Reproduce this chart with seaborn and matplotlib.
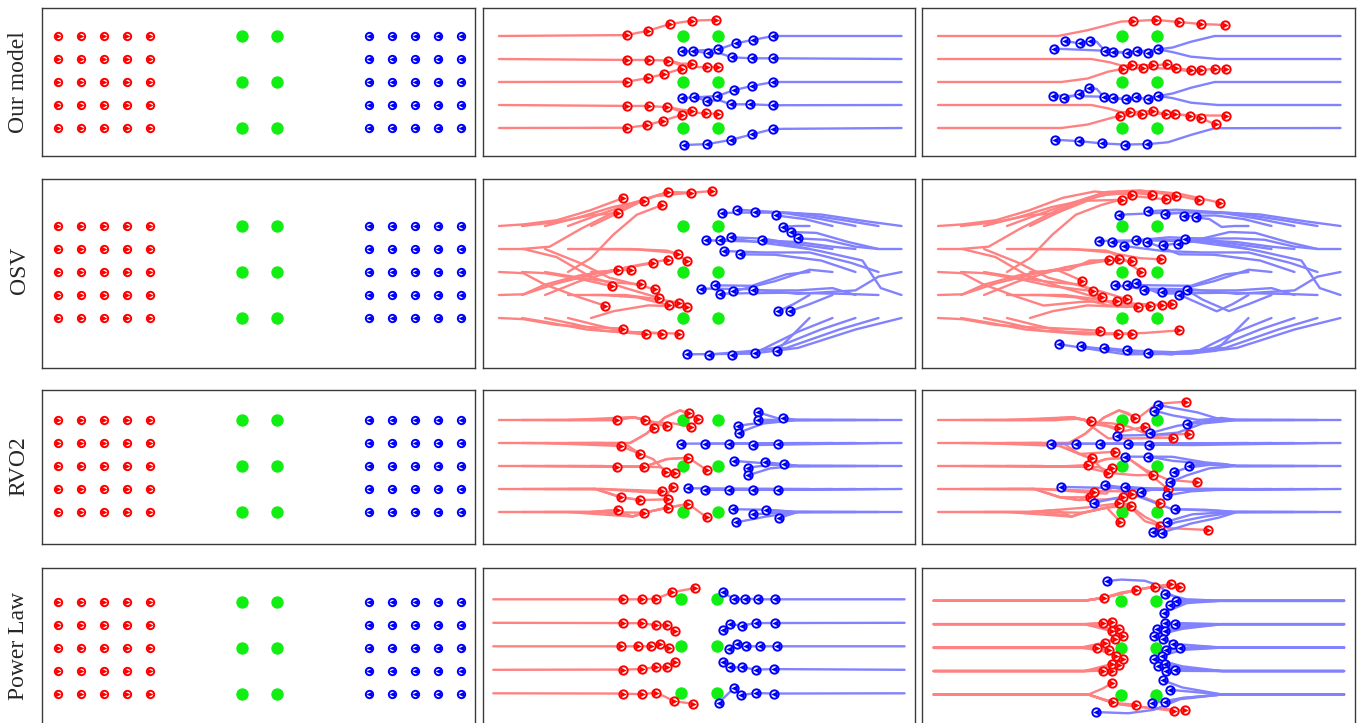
import matplotlib
matplotlib.use("Agg")
import matplotlib.pyplot as plt
import pandas as pd
import seaborn as sns

# ---- scene: start grids and obstacles (metres) ----
red_x0 = [0, 1, 2, 3, 4]
blue_x0 = [13.5, 14.5, 15.5, 16.5, 17.5]
rows_y = [0, 1, 2, 3, 4]
obst_x = [8.0, 9.5]
obst_y = [0, 2, 4]
row_names = ["Our model", "OSV", "RVO2", "Power Law"]

# ---- Our model, snapshot 1 ----
ours_t1_red_lanes = [
    [(0, 4), (5.55, 4.04), (6.49, 4.23), (7.43, 4.52), (8.41, 4.67), (9.42, 4.70)],
    [(0, 3), (5.55, 2.96), (6.54, 2.96), (7.36, 2.93), (7.87, 2.74), (8.16, 2.67), (9.03, 2.64), (9.52, 2.67)],
    [(7.36, 2.95), (7.9, 2.8), (8.41, 2.78)],
    [(0, 2), (5.55, 2.01), (6.46, 2.17), (7.19, 2.35), (7.94, 2.58), (8.41, 2.78)],
    [(0, 1), (5.55, 0.96), (6.54, 0.96), (7.32, 0.90), (7.87, 0.74), (8.16, 0.68), (9.0, 0.64), (9.52, 0.61)],
    [(7.32, 0.92), (7.9, 0.8), (8.38, 0.75)],
    [(0, 0), (5.55, 0.01), (6.42, 0.12), (7.14, 0.32), (7.94, 0.57), (8.38, 0.75)],
]
ours_t1_red = [
    (5.55, 4.04), (6.49, 4.23), (7.43, 4.52), (8.41, 4.67), (9.42, 4.70),
    (5.55, 2.96), (6.54, 2.96), (7.36, 2.93), (9.03, 2.64), (9.52, 2.67),
    (5.55, 2.01), (6.46, 2.17), (7.19, 2.35), (7.94, 2.58), (8.41, 2.78),
    (5.55, 0.96), (6.54, 0.96), (7.32, 0.90), (9.0, 0.64), (9.52, 0.61),
    (5.55, 0.01), (6.42, 0.12), (7.14, 0.32), (7.94, 0.57), (8.38, 0.75),
]
ours_t1_blue_lanes = [
    [(17.5, 4), (11.93, 4.0), (11.03, 3.83), (10.30, 3.68), (9.54, 3.42), (8.45, 3.36), (7.94, 3.33)],
    [(17.5, 3), (11.93, 3.03), (11.01, 3.03), (10.14, 3.07), (9.6, 3.25), (9.07, 3.25), (8.45, 3.36)],
    [(17.5, 2), (11.93, 2.0), (11.01, 1.83), (10.23, 1.65), (9.49, 1.39), (8.48, 1.33), (7.94, 1.30)],
    [(17.5, 1), (11.93, 0.99), (10.91, 1.03), (10.07, 1.03), (9.6, 1.2), (9.06, 1.19), (8.48, 1.33)],
    [(17.5, 0), (11.93, -0.04), (10.99, -0.28), (10.07, -0.52), (9.06, -0.70), (8.04, -0.74)],
]
ours_t1_blue = [
    (11.93, 4.0), (11.03, 3.83), (10.30, 3.68), (9.54, 3.42), (7.94, 3.33),
    (11.93, 3.03), (11.01, 3.03), (10.14, 3.07), (9.07, 3.25), (8.45, 3.36),
    (11.93, 2.0), (11.01, 1.83), (10.23, 1.65), (9.49, 1.39), (7.94, 1.30),
    (11.93, 0.99), (10.91, 1.03), (10.07, 1.03), (9.06, 1.19), (8.48, 1.33),
    (11.93, -0.04), (10.99, -0.28), (10.07, -0.52), (9.06, -0.70), (8.04, -0.74),
]

# ---- Our model, snapshot 2 ----
ours_t2_red_lanes = [
    [(0, 4), (5.22, 4.0), (6.5, 4.25), (7.97, 4.63), (8.48, 4.65), (9.48, 4.70), (10.46, 4.61), (11.45, 4.52), (12.46, 4.48)],
    [(0, 3), (6.67, 3.0), (7.5, 2.85), (8.03, 2.7), (8.45, 2.74), (9.36, 2.72), (9.94, 2.77), (10.33, 2.59), (10.99, 2.52), (11.42, 2.52), (12.06, 2.58), (12.54, 2.55)],
    [(0, 2), (5.36, 2.0), (6.5, 2.15), (7.4, 2.45), (8.03, 2.57), (8.93, 2.62), (9.6, 2.6), (10.4, 2.55), (11.0, 2.45), (11.42, 2.52)],
    [(0, 1), (6.67, 1.0), (7.4, 0.85), (7.93, 0.7), (8.35, 0.68), (9.35, 0.74), (9.90, 0.59), (10.30, 0.61), (10.97, 0.52), (11.42, 0.42), (12.07, 0.16)],
    [(0, 0), (5.36, 0.0), (6.5, 0.15), (7.4, 0.4), (7.93, 0.54), (8.87, 0.61), (9.90, 0.62), (10.97, 0.55), (12.52, 0.54)],
]
ours_t2_red = [
    (8.48, 4.65), (9.48, 4.70), (10.46, 4.61), (11.45, 4.52), (12.46, 4.48),
    (8.03, 2.57), (8.45, 2.74), (8.93, 2.62), (9.36, 2.72), (9.94, 2.77),
    (10.33, 2.59), (10.99, 2.52), (11.42, 2.52), (12.06, 2.58), (12.54, 2.55),
    (7.93, 0.54), (8.35, 0.68), (8.87, 0.61), (9.35, 0.74), (9.90, 0.59),
    (10.30, 0.61), (10.97, 0.52), (11.42, 0.42), (12.52, 0.54), (12.07, 0.16),
]
ours_t2_blue_lanes = [
    [(17.5, 4), (12.03, 4.0), (11.0, 3.75), (10.2, 3.5), (9.57, 3.42), (9.13, 3.25), (8.67, 3.36), (8.22, 3.28), (7.62, 3.29), (7.25, 3.36), (6.9, 3.75), (6.62, 3.80), (6.19, 3.68), (5.51, 3.78)],
    [(17.5, 3), (12.17, 3.0), (11.0, 3.1), (10.2, 3.3), (9.57, 3.42), (8.9, 3.35), (8.22, 3.28), (7.25, 3.36), (5.03, 3.45)],
    [(17.5, 2), (12.03, 2.0), (11.0, 1.75), (10.2, 1.5), (9.57, 1.39), (9.13, 1.25), (8.59, 1.33), (8.19, 1.25), (7.61, 1.29), (7.20, 1.36), (6.9, 1.7), (6.57, 1.75), (6.13, 1.48), (5.46, 1.29)],
    [(17.5, 1), (12.17, 1.0), (11.0, 1.1), (10.2, 1.3), (9.57, 1.39), (8.9, 1.3), (8.19, 1.25), (7.20, 1.36), (5.01, 1.41)],
    [(17.5, 0), (12.03, -0.01), (11.0, -0.3), (10.0, -0.62), (9.10, -0.70), (8.12, -0.72), (7.13, -0.67), (6.12, -0.57), (5.09, -0.51)],
]
ours_t2_blue = [
    (9.57, 3.42), (9.13, 3.25), (8.67, 3.36), (8.22, 3.28), (7.62, 3.29),
    (7.25, 3.36), (6.62, 3.80), (6.19, 3.68), (5.51, 3.78), (5.03, 3.45),
    (9.57, 1.39), (9.13, 1.25), (8.59, 1.33), (8.19, 1.25), (7.61, 1.29),
    (7.20, 1.36), (6.57, 1.75), (6.13, 1.48), (5.46, 1.29), (5.01, 1.41),
    (9.10, -0.70), (8.12, -0.72), (7.13, -0.67), (6.12, -0.57), (5.09, -0.51),
]

# ---- OSV, snapshot 1 (one path per agent) ----
osv_t1_red = [
    [(0, 4), (1.06, 4.07), (2.51, 4.25), (3.96, 4.68), (5.41, 5.22)],
    [(1, 4), (2.51, 4.17), (3.96, 4.46), (5.16, 4.57)],
    [(2, 4), (3.52, 4.39), (4.97, 4.83), (6.32, 5.10)],
    [(3, 4), (4.25, 4.46), (5.70, 4.97), (7.36, 5.48)],
    [(4, 4), (5.26, 4.61), (6.42, 5.19), (7.36, 5.48), (8.35, 5.45), (9.28, 5.52)],
    [(3, 2), (4.0, 2.61), (4.97, 3.62), (5.99, 4.49), (7.09, 4.91)],
    [(1, 3), (2.2, 3.1), (3.6, 3.9), (5.2, 4.7), (6.8, 5.3), (8.35, 5.45)],
    [(0, 3), (1.06, 3.0), (2.5, 2.65), (3.96, 1.8), (5.5, 1.3), (6.96, 0.87)],
    [(2, 3), (3.5, 2.4), (4.8, 1.75), (6.78, 1.25)],
    [(3, 3), (5.7, 3.0), (7.3, 2.93), (7.80, 2.78)],
    [(4, 3), (6.0, 2.98), (7.5, 2.85), (8.19, 2.49)],
    [(0, 2), (1.06, 1.95), (2.0, 1.45), (3.5, 0.9), (4.59, 0.54)],
    [(1, 2), (2.0, 1.95), (3.5, 1.7), (4.91, 1.39)],
    [(2, 2), (3.5, 1.75), (5.0, 1.55), (6.17, 1.46)],
    [(4, 2), (5.0, 2.05), (5.72, 2.10)],
    [(0, 1), (1.06, 1.03), (2.0, 1.45), (3.5, 1.85), (5.16, 2.10)],
    [(1, 1), (2.5, 1.5), (4.5, 2.0), (6.71, 2.39)],
    [(2, 1), (3.5, 1.6), (5.5, 2.2), (7.33, 2.54)],
    [(3, 1), (4.5, 1.0), (6.0, 0.9), (7.41, 0.55)],
    [(4, 1), (5.5, 1.0), (7.0, 0.8), (7.83, 0.67)],
    [(4, 0), (5.0, 0.3), (6.5, 0.55), (8.19, 0.48)],
    [(0, 0), (1.06, -0.05), (2.5, -0.3), (4.0, -0.4), (5.41, -0.46)],
    [(1, 0), (2.2, -0.2), (3.8, -0.5), (6.38, -0.71)],
    [(2, 0), (3.2, -0.25), (4.5, -0.55), (7.10, -0.68)],
    [(3, 0), (4.2, -0.3), (5.5, -0.6), (7.83, -0.68)],
]
osv_t1_blue = [
    [(17.5, 4), (16, 4.2), (14, 4.5), (12, 4.6), (9.71, 4.57)],
    [(16.5, 4), (15, 4.25), (13, 4.55), (10.35, 4.71)],
    [(15.5, 4), (14, 4.3), (12.5, 4.55), (11.13, 4.61)],
    [(14.5, 4), (13.3, 4.3), (12.04, 4.46)],
    [(13.5, 4), (12.9, 4.0), (12.33, 3.96)],
    [(17.5, 3), (16.5, 3.0), (15.2, 3.3), (13.8, 3.7), (12.68, 3.74)],
    [(16.5, 3), (15.5, 3.1), (14.2, 3.4), (13.01, 3.46)],
    [(15.5, 3), (14.5, 3.1), (13, 3.3), (11.42, 3.38)],
    [(14.5, 3), (13, 3.2), (11.5, 3.45), (10.07, 3.51)],
    [(13.5, 3), (12, 3.2), (10.5, 3.4), (9.61, 3.41)],
    [(17.5, 1), (16.6, 1.3), (15.8, 2.5), (14, 2.9), (12, 3.3), (8.99, 3.38)],
    [(16.5, 2), (15.3, 2.4), (13.5, 2.85), (11.5, 2.85), (9.80, 2.91)],
    [(15.5, 2), (14, 2.5), (12, 2.75), (10.49, 2.77)],
    [(14.5, 2), (13.5, 2.1), (12, 1.6), (10.19, 1.16)],
    [(13.5, 2), (12.5, 1.9), (11, 1.4), (9.39, 1.42)],
    [(17.5, 2), (16.5, 1.8), (15.5, 1.2), (13, 1.05), (11, 1.25), (8.78, 1.28)],
    [(16.5, 1), (15, 1.05), (12.5, 1.1), (9.61, 1.06)],
    [(15.5, 1), (14.5, 1.3), (13, 1.2), (11.03, 1.20)],
    [(14.5, 1), (13.5, 0.6), (12.65, 0.30)],
    [(13.5, 1), (12.8, 0.6), (12.12, 0.29)],
    [(17.5, 0), (15.5, -0.5), (13, -1.3), (11, -1.55), (8.16, -1.58)],
    [(16.5, 0), (14.8, -0.5), (12.5, -1.3), (9.14, -1.59)],
    [(15.5, 0), (14, -0.5), (12, -1.3), (10.14, -1.59)],
    [(14.5, 0), (13, -0.6), (11.13, -1.52)],
    [(13.5, 0), (12.8, -0.7), (12.07, -1.43)],
]

# ---- OSV, snapshot 2: continuation of every path above ----
osv_t2_red_ext = [
    [(6.8, 5.5), (8.42, 5.36)],
    [(6.5, 5.1), (8.0, 5.14)],
    [(7.8, 5.5), (9.32, 5.36)],
    [(8.8, 5.55), (10.36, 5.32)],
    [(10.5, 5.4), (12.28, 5.01)],
    [(8.5, 5.3), (9.90, 5.16)],
    [(9.8, 5.45), (11.35, 5.12)],
    [(7.8, 0.55), (8.70, 0.49)],
    [(8.22, 0.81)],
    [(8.8, 2.6), (9.71, 2.55)],
    [(8.81, 2.0)],
    [(6.2, 0.7), (7.80, 0.74)],
    [(6.74, 1.17)],
    [(7.14, 0.90)],
    [(6.6, 2.5), (7.42, 2.51)],
    [(6.28, 1.61)],
    [(7.87, 2.58)],
    [(8.45, 2.46)],
    [(9.23, 0.54)],
    [(9.74, 0.55)],
    [(10.17, 0.62)],
    [(7.03, -0.55)],
    [(7.81, -0.70)],
    [(8.43, -0.70)],
    [(9.0, -0.65), (10.46, -0.54)],
]
osv_t2_blue_ext = [
    [(7.87, 4.49)],
    [(9.13, 4.64)],
    [(9.87, 4.52)],
    [(10.68, 4.43)],
    [(11.8, 4.3), (11.20, 4.38)],
    [(10.43, 3.20)],
    [(10.72, 3.45)],
    [(9.80, 3.16)],
    [(8.61, 3.38)],
    [(7.58, 3.30)],
    [(7.01, 3.35)],
    [(8.09, 3.13)],
    [(9.07, 3.32)],
    [(8.96, 1.23)],
    [(8.22, 1.45)],
    [(7.70, 1.42)],
    [(8.62, 1.52)],
    [(9.75, 1.13)],
    [(11.5, 0.8), (10.84, 1.20)],
    [(11.2, 0.7), (10.49, 1.01)],
    [(5.25, -1.14)],
    [(6.23, -1.23)],
    [(7.23, -1.30)],
    [(8.20, -1.41)],
    [(9.14, -1.52)],
]

# ---- RVO2, snapshot 1 ----
rvo_t1_red = [
    [(0, 4), (4.5, 4.0), (5.12, 4.0)],
    [(1, 4), (4.5, 4.0), (5.12, 4.0), (5.84, 4.12), (6.35, 4.01)],
    [(2, 4), (5.12, 4.0), (5.84, 4.12), (6.35, 4.01), (6.75, 3.67)],
    [(3, 4), (5.84, 4.12), (6.4, 4.0), (6.9, 3.8), (7.32, 3.74)],
    [(4, 4), (5.84, 4.12), (6.8, 3.9), (7.6, 3.85), (8.33, 3.70)],
    [(0, 3), (4.5, 3.0), (5.30, 2.87)],
    [(1, 3), (5.5, 2.95), (6.14, 2.52)],
    [(2, 3), (5.30, 2.87), (6.14, 2.52), (6.7, 2.3), (7.26, 1.74)],
    [(3, 3), (5.7, 3.0), (6.4, 3.4), (7.2, 4.1), (7.87, 4.42), (8.26, 4.30)],
    [(4, 3), (5.7, 3.0), (6.4, 3.4), (7.2, 4.1), (7.87, 4.42), (8.67, 4.06)],
    [(0, 2), (4.5, 2.0), (5.12, 1.97)],
    [(1, 2), (5.12, 1.97), (6.32, 1.97)],
    [(2, 2), (6.32, 1.97), (7.0, 1.95), (7.65, 1.68)],
    [(3, 2), (6.32, 1.97), (7.3, 2.3), (8.23, 2.36)],
    [(4, 2), (6.32, 1.97), (7.3, 2.3), (8.23, 2.36), (9.03, 1.83)],
    [(0, 1), (4.2, 1.0), (5.30, 0.64)],
    [(1, 1), (4.2, 1.0), (5.30, 0.64), (6.14, 0.52)],
    [(2, 1), (4.2, 1.0), (5.30, 0.64), (6.14, 0.52), (7.33, 0.55)],
    [(3, 1), (4.5, 1.0), (7.07, 0.91)],
    [(4, 1), (4.5, 1.0), (6.5, 0.85), (7.33, 0.80), (7.58, 1.10)],
    [(0, 0), (4.0, 0.0), (5.16, 0.09)],
    [(1, 0), (4.0, 0.0), (5.16, 0.09), (5.8, -0.2), (6.32, -0.03)],
    [(2, 0), (4.5, 0.0), (5.8, -0.2), (6.32, -0.03), (7.33, 0.19)],
    [(3, 0), (5.8, -0.2), (6.32, -0.03), (7.33, 0.19), (8.23, 0.35)],
    [(4, 0), (6.32, -0.03), (7.33, 0.19), (8.23, 0.35), (9.03, -0.23)],
]
rvo_t1_blue = [
    [(13.5, 4), (13.0, 4.0), (12.2, 4.05), (11.28, 4.33)],
    [(14.5, 4), (13.0, 4.0), (11.28, 4.01)],
    [(15.5, 4), (13.0, 4.0), (12.33, 4.09)],
    [(16.5, 4), (13.0, 4.0), (11.5, 3.9), (10.41, 3.75)],
    [(17.5, 4), (13.0, 4.0), (11.5, 3.85), (10.42, 3.45)],
    [(13.5, 3), (7.90, 2.97)],
    [(14.5, 3), (8.97, 2.97)],
    [(15.5, 3), (10.0, 2.97)],
    [(16.5, 3), (11.06, 2.91)],
    [(17.5, 3), (12.12, 2.97)],
    [(13.5, 2), (13.0, 2.0), (12.39, 2.09)],
    [(14.5, 2), (13.0, 2.0), (12.2, 2.1), (11.58, 2.16)],
    [(15.5, 2), (13.0, 2.0), (11.8, 2.05), (10.84, 1.93)],
    [(16.5, 2), (13.0, 2.0), (11.8, 2.1), (10.23, 2.22)],
    [(17.5, 2), (13.0, 2.0), (11.8, 1.9), (10.81, 1.59)],
    [(13.5, 1), (8.23, 1.03)],
    [(14.5, 1), (8.97, 0.96)],
    [(15.5, 1), (10.0, 0.96)],
    [(16.5, 1), (11.06, 0.96)],
    [(17.5, 1), (12.12, 0.96)],
    [(13.5, 0), (13.0, 0.0), (12.19, -0.25)],
    [(14.5, 0), (13.0, 0.0), (12.2, 0.05), (11.59, 0.07)],
    [(15.5, 0), (13.0, 0.0), (11.9, -0.05), (11.06, -0.10)],
    [(16.5, 0), (13.0, 0.0), (11.6, 0.1), (10.19, 0.12)],
    [(17.5, 0), (13.0, 0.0), (11.6, -0.2), (10.32, -0.45)],
]

# ---- RVO2, snapshot 2: continuation ----
rvo_t2_red_ext = [
    [(6.0, 4.05), (6.64, 3.97)],
    [(7.0, 3.85), (7.86, 3.64)],
    [(7.4, 3.2), (8.3, 3.2), (10.22, 3.23)],
    [(8.0, 3.5), (8.99, 3.71)],
    [(9.3, 3.3), (10.93, 3.41)],
    [(6.68, 2.33)],
    [(7.68, 2.62)],
    [(7.58, 1.93)],
    [(8.58, 4.10)],
    [(9.5, 4.7), (10.80, 4.80)],
    [(6.51, 2.04)],
    [(7.39, 1.71)],
    [(8.6, 1.6), (9.33, 1.61)],
    [(9.0, 1.8), (10.0, 1.0)],
    [(10.0, 1.4), (11.28, 1.29)],
    [(6.59, 0.64)],
    [(6.78, 0.88)],
    [(8.03, 0.64)],
    [(7.9, 0.9), (8.45, 0.78)],
    [(8.5, 0.8), (9.64, 0.38)],
    [(6.5, 0.2), (7.88, 0.38)],
    [(7.4, 0.2), (8.41, 0.26)],
    [(7.93, -0.42)],
    [(9.0, -0.4), (9.64, -0.59)],
    [(10.0, -0.7), (11.74, -0.78)],
]
rvo_t2_blue_ext = [
    [(9.57, 4.65)],
    [(10.2, 4.2), (9.39, 4.41)],
    [(11.5, 4.0), (10.84, 3.83)],
    [(9.23, 3.43)],
    [(9.3, 3.35), (7.78, 3.32)],
    [(4.93, 2.97)],
    [(6.0, 2.97)],
    [(7.04, 2.97)],
    [(8.25, 2.94)],
    [(9.17, 2.91)],
    [(11.5, 2.1), (10.90, 2.0)],
    [(10.2, 2.4), (9.13, 2.41)],
    [(10.25, 1.72)],
    [(9.2, 2.4), (8.12, 2.41)],
    [(10.07, 1.29)],
    [(5.36, 1.09)],
    [(7.25, 1.17)],
    [(8.14, 1.10)],
    [(9.5, 1.0), (8.81, 0.88)],
    [(11.0, 0.9), (9.94, 0.72)],
    [(11.0, -0.5), (9.72, -0.90)],
    [(10.29, 0.13)],
    [(9.94, -0.42)],
    [(8.5, 0.75), (6.80, 0.41)],
    [(9.35, -0.86)],
]

# ---- Power Law, snapshot 1 (every lane point is an agent) ----
pl_t1_red_lanes = [
    [(0, 4), (5.52, 4.0), (6.33, 4.0), (6.94, 4.03), (7.62, 4.30), (8.58, 4.48)],
    [(0, 3), (5.52, 2.99), (6.33, 2.98), (6.94, 2.90), (7.41, 2.92), (7.72, 2.67)],
    [(0, 2), (5.44, 2.0), (6.15, 2.0), (6.69, 2.0), (7.11, 2.09), (7.46, 1.93)],
    [(0, 1), (5.52, 1.01), (6.33, 1.03), (6.94, 1.12), (7.41, 1.12), (7.72, 1.32)],
    [(0, 0), (5.52, -0.01), (6.33, -0.04), (6.94, 0.03), (7.69, -0.33), (8.50, -0.45)],
]
pl_t1_blue_lanes = [
    [(17.5, 4), (11.97, 4.0), (11.26, 4.0), (10.69, 4.03), (10.24, 4.0), (9.77, 4.31)],
    [(17.5, 3), (11.97, 2.99), (11.16, 2.99), (10.57, 2.88), (10.08, 2.94), (9.77, 2.68)],
    [(17.5, 2), (12.07, 2.0), (11.36, 2.0), (10.76, 2.0), (10.37, 2.09), (10.03, 1.90)],
    [(17.5, 1), (11.95, 1.03), (11.16, 1.01), (10.58, 1.11), (10.08, 1.10), (9.79, 1.34)],
    [(17.5, 0), (11.95, -0.01), (11.16, 0.01), (10.52, -0.08), (10.24, 0.23), (9.59, -0.41)],
]

# ---- Power Law, snapshot 2 ----
pl_t2_red = [
    [(0, 4), (6.44, 4.0), (7.27, 4.13)],
    [(0, 4), (6.44, 4.0), (7.27, 4.13), (8.0, 4.35), (8.61, 4.45)],
    [(0, 4), (6.44, 4.0), (7.27, 4.13), (8.61, 4.45), (9.44, 4.60)],
    [(0, 4), (6.44, 4.0), (7.27, 4.13), (8.61, 4.45), (9.44, 4.62), (10.13, 4.70)],
    [(0, 4), (6.44, 4.0), (7.27, 4.13), (8.61, 4.45), (9.44, 4.60), (10.49, 4.57)],
    [(0, 3), (6.44, 3.0), (7.22, 3.04)],
    [(0, 3), (6.44, 3.0), (7.62, 3.08)],
    [(0, 3), (6.44, 3.0), (7.2, 2.85), (7.62, 2.72)],
    [(0, 3), (6.44, 3.0), (7.3, 2.85), (7.92, 2.79)],
    [(0, 3), (6.44, 3.0), (7.4, 2.75), (8.09, 2.50)],
    [(0, 2), (6.3, 2.0), (6.98, 2.0)],
    [(0, 2), (6.3, 2.0), (7.32, 2.18)],
    [(0, 2), (6.3, 2.0), (7.49, 1.90)],
    [(0, 2), (6.3, 2.0), (7.2, 2.2), (7.73, 2.37)],
    [(0, 2), (6.3, 2.0), (7.2, 1.85), (7.78, 1.65)],
    [(0, 1), (6.44, 1.0), (7.24, 1.02)],
    [(0, 1), (6.44, 1.0), (7.62, 1.02)],
    [(0, 1), (6.44, 1.0), (7.2, 1.15), (7.62, 1.30)],
    [(0, 1), (6.44, 1.0), (7.3, 1.15), (7.92, 1.25)],
    [(0, 1), (6.44, 1.0), (7.4, 1.25), (8.09, 1.52)],
    [(0, 0), (6.6, 0.0), (7.2, 0.25), (7.62, 0.50)],
    [(0, 0), (6.6, 0.0), (7.2, -0.2), (7.65, -0.30)],
    [(0, 0), (6.6, 0.0), (7.6, -0.35), (8.64, -0.44)],
    [(0, 0), (6.6, 0.0), (7.8, -0.4), (9.0, -0.55), (10.25, -0.70)],
    [(0, 0), (6.6, 0.0), (7.8, -0.4), (9.0, -0.55), (10.70, -0.68)],
]
pl_t2_blue = [
    [(17.5, 4), (12.3, 4.0), (10.35, 4.0)],
    [(17.5, 4), (12.3, 4.0), (10.8, 4.05), (9.85, 4.30)],
    [(17.5, 4), (12.3, 4.0), (10.8, 3.95), (10.06, 3.80)],
    [(17.5, 4), (12.3, 4.0), (10.8, 3.9), (9.81, 3.49)],
    [(17.5, 4), (12.3, 4.0), (10.6, 4.05), (10.0, 4.3), (9.6, 4.65), (9.0, 4.85), (8.0, 4.9), (7.39, 4.84)],
    [(17.5, 3), (12.3, 3.0), (9.87, 3.06)],
    [(17.5, 3), (12.3, 3.0), (10.28, 2.99)],
    [(17.5, 3), (12.3, 3.0), (10.6, 2.9), (9.54, 2.79)],
    [(17.5, 3), (12.3, 3.0), (10.6, 2.85), (9.88, 2.71)],
    [(17.5, 3), (12.3, 3.0), (10.6, 2.8), (9.39, 2.50)],
    [(17.5, 2), (12.3, 2.0), (10.6, 2.1), (9.77, 2.35)],
    [(17.5, 2), (12.3, 2.0), (10.21, 2.16)],
    [(17.5, 2), (12.3, 2.0), (10.52, 1.97)],
    [(17.5, 2), (12.3, 2.0), (10.6, 1.95), (9.90, 1.90)],
    [(17.5, 2), (12.3, 2.0), (10.6, 1.9), (9.75, 1.66)],
    [(17.5, 1), (12.3, 1.0), (10.6, 1.2), (9.41, 1.53)],
    [(17.5, 1), (12.3, 1.0), (10.6, 1.1), (9.88, 1.30)],
    [(17.5, 1), (12.3, 1.0), (10.6, 1.1), (9.55, 1.22)],
    [(17.5, 1), (12.3, 1.0), (10.28, 1.05)],
    [(17.5, 1), (12.3, 1.0), (9.90, 1.01)],
    [(17.5, 0), (12.3, 0.0), (10.6, 0.3), (9.79, 0.60)],
    [(17.5, 0), (12.3, 0.0), (10.06, 0.20)],
    [(17.5, 0), (12.3, 0.0), (10.6, -0.15), (9.85, -0.34)],
    [(17.5, 0), (12.3, 0.0), (10.6, -0.15), (9.33, -0.37)],
    [(17.5, 0), (12.3, 0.0), (10.5, -0.2), (9.4, -0.65), (8.3, -0.8), (6.94, -0.75)],
]

# ---- page layout (pixels of the 1367x723 page) ----
W, H = 1367, 723
col_px = [(42, 475), (483, 915), (922, 1355)]
row_px = [(8, 156), (179, 368), (390, 544), (568, 728)]
origin_px = {  # pixel of the point (x=0, y=4) and pixels per metre
    (0, 0): (58, 36, 23), (0, 1): (499, 36, 23), (0, 2): (938, 36, 23),
    (1, 0): (58, 226, 23), (1, 1): (499, 226, 23), (1, 2): (938, 226, 23),
    (2, 0): (58, 420, 23), (2, 1): (499, 420, 23), (2, 2): (938, 420, 23),
    (3, 0): (58, 601.5, 23), (3, 1): (493.3, 599.3, 23.5), (3, 2): (933.7, 600.7, 23.45),
}
label_y_px = [82, 270, 466, 646]

RED, BLUE, GREEN = "#ff0000", "#0000ff", "#11ee11"
RED_LINE, BLUE_LINE = "#ff8282", "#8282ff"


def extend(paths, ext):
    return [p + e for p, e in zip(paths, ext)]


def ends(paths):
    return [p[-1] for p in paths]


def tails(paths):
    return [pt for p in paths for pt in p[1:]]


def draw_paths(ax, paths, color):
    recs = [(k, x, y) for k, p in enumerate(paths) for x, y in p]
    df = pd.DataFrame(recs, columns=["agent", "x", "y"])
    sns.lineplot(data=df, x="x", y="y", units="agent", estimator=None, sort=False,
                 color=color, lw=1.7, ax=ax, legend=False, zorder=1)


def draw_agents(ax, pts, color, marker, s=36):
    df = pd.DataFrame(pts, columns=["x", "y"])
    sns.scatterplot(data=df, x="x", y="y", color="white", edgecolor=color,
                    linewidth=1.4, s=s, ax=ax, zorder=4, legend=False)
    sns.scatterplot(data=df, x="x", y="y", marker=marker, color=color,
                    linewidth=0, s=s * 0.6, ax=ax, zorder=5, legend=False)


start_red = [(x, y) for y in rows_y for x in red_x0]
start_blue = [(x, y) for y in rows_y for x in blue_x0]
obstacles = pd.DataFrame([(x, y) for y in obst_y for x in obst_x], columns=["x", "y"])

panels = [
    [(ours_t1_red_lanes, ours_t1_red, ours_t1_blue_lanes, ours_t1_blue),
     (ours_t2_red_lanes, ours_t2_red, ours_t2_blue_lanes, ours_t2_blue)],
    [(osv_t1_red, ends(osv_t1_red), osv_t1_blue, ends(osv_t1_blue)),
     (extend(osv_t1_red, osv_t2_red_ext), ends(osv_t2_red_ext),
      extend(osv_t1_blue, osv_t2_blue_ext), ends(osv_t2_blue_ext))],
    [(rvo_t1_red, ends(rvo_t1_red), rvo_t1_blue, ends(rvo_t1_blue)),
     (extend(rvo_t1_red, rvo_t2_red_ext), ends(rvo_t2_red_ext),
      extend(rvo_t1_blue, rvo_t2_blue_ext), ends(rvo_t2_blue_ext))],
    [(pl_t1_red_lanes, tails(pl_t1_red_lanes), pl_t1_blue_lanes, tails(pl_t1_blue_lanes)),
     (pl_t2_red, ends(pl_t2_red), pl_t2_blue, ends(pl_t2_blue))],
]

sns.set_theme(style="white")
plt.rcParams["font.family"] = ["Liberation Serif", "DejaVu Serif"]

fig = plt.figure(figsize=(W / 100, H / 100), dpi=100)

for r in range(4):
    top, bottom = row_px[r]
    for c in range(3):
        left, right = col_px[c]
        ax = fig.add_axes([left / W, 1 - bottom / H, (right - left) / W, (bottom - top) / H])
        x0, y4, s = origin_px[(r, c)]

        if c == 0:
            draw_agents(ax, start_red, RED, ">", s=28)
            draw_agents(ax, start_blue, BLUE, "<", s=28)
        else:
            red_paths, red_dots, blue_paths, blue_dots = panels[r][c - 1]
            draw_paths(ax, red_paths, RED_LINE)
            draw_paths(ax, blue_paths, BLUE_LINE)
            draw_agents(ax, red_dots, RED, ">")
            draw_agents(ax, blue_dots, BLUE, "<")

        sns.scatterplot(data=obstacles, x="x", y="y", color=GREEN, s=80,
                        linewidth=0, ax=ax, zorder=3, legend=False)

        ax.set_xlim((left - x0) / s, (right - x0) / s)
        ax.set_ylim(4 - (bottom - y4) / s, 4 + (y4 - top) / s)
        ax.set(xlabel="", ylabel="", xticks=[], yticks=[])
        for sp in ax.spines.values():
            sp.set_visible(True)
            sp.set_color("#3a3a3a")
            sp.set_linewidth(1.0)

    fig.text(19 / W, 1 - label_y_px[r] / H, row_names[r], rotation=90,
             ha="center", va="center", fontsize=17,
             family=["Liberation Serif", "DejaVu Serif"])

fig.savefig("out.png", dpi=100)
